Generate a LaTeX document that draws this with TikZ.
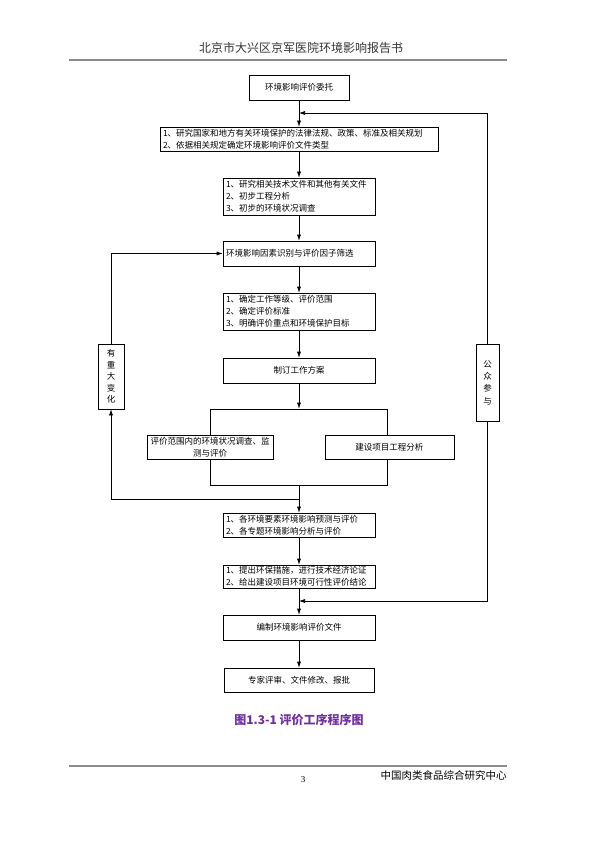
\documentclass[tikz,border=0pt]{standalone}
\usepackage{fontspec}
\setmainfont{Liberation Serif}
\newfontfamily\cjk{Noto Sans CJK SC}
\usetikzlibrary{positioning, arrows.meta}
\definecolor{captionpurple}{RGB}{112,48,160}

\begin{document}
\begin{tikzpicture}[x=1pt, y=1pt, node distance=52pt, auto,
    >={Latex[length=6pt, width=4pt]},
    font=\cjk\fontsize{8.5}{12}\selectfont,
    box/.style={draw, rectangle, fill=white, line width=0.6pt, inner sep=0pt, minimum width=152pt, minimum height=25pt},
    listbox/.style={box, text width=146pt, align=left},
    sidebox/.style={box, align=center},
    flow/.style={->, line width=0.6pt}]
    \useasboundingbox (0,0) rectangle (595,-842);

    % Page header
    \node[font=\cjk\fontsize{12}{14}\selectfont, text=black!80] (header) at (301,-48) {北京市大兴区京军医院环境影响报告书};
    \draw[black!45, line width=1.6pt] (69,-60) -- (507,-60);

    % Main chain of steps
    \node[box, minimum width=100pt] (entrust) at (299,-87.5) {环境影响评价委托};
    \node[listbox, below of=entrust, node distance=51.5pt, text width=272pt, minimum width=278pt, minimum height=24pt] (laws) {1、研究国家和地方有关环境保护的法律法规、政策、标准及相关规划\\2、依据相关规定确定环境影响评价文件类型};
    \node[listbox, below of=laws, node distance=57.5pt, minimum height=37pt] (prelim) {1、研究相关技术文件和其他有关文件\\2、初步工程分析\\3、初步的环境状况调查};
    \node[listbox, below of=prelim, node distance=57pt] (factor) {环境影响因素识别与评价因子筛选};
    \node[listbox, below of=factor, node distance=58pt, minimum height=37pt] (grade) {1、确定工作等级、评价范围\\2、确定评价标准\\3、明确评价重点和环境保护目标};
    \node[box, below of=grade, node distance=59pt] (plan) {制订工作方案};

    % Two parallel tasks
    \node[draw, line width=0.6pt, minimum width=177pt, minimum height=76pt, below of=plan, node distance=76.5pt] (split) {};
    \node[box, align=center, text width=122pt, minimum width=126pt, minimum height=24pt] (survey) at (split.west) {评价范围内的环境状况调查、监\\测与评价};
    \node[box, minimum width=129pt, minimum height=24pt] (project) at ([xshift=1.5pt]split.east) {建设项目工程分析};

    \node[listbox, below of=split, node distance=78pt, minimum height=24pt] (predict) {1、各环境要素环境影响预测与评价\\2、各专题环境影响分析与评价};
    \node[listbox, below of=predict, node distance=51.5pt, minimum height=23pt] (measure) {1、提出环保措施，进行技术经济论证\\2、给出建设项目环境可行性评价结论};
    \node[box, below of=measure, node distance=51pt] (report) {编制环境影响评价文件};
    \node[box, below of=report, node distance=52.5pt, minimum width=150pt, minimum height=24pt] (review) {专家评审、文件修改、报批};

    % Side boxes
    \node[sidebox, minimum width=26pt, minimum height=65pt, font=\cjk\fontsize{8.5}{11.5}\selectfont] (change) at (111,-376.5) {有\\重\\大\\变\\化};
    \node[sidebox, minimum width=23pt, minimum height=77pt, font=\cjk\fontsize{8.5}{12.3}\selectfont] (public) at (487.5,-382.5) {公\\众\\参\\与};

    % Junction points on the main line
    \coordinate[below of=entrust, node distance=25.5pt] (pubin);
    \coordinate[below of=split, node distance=52pt] (loopout);
    \coordinate[below of=measure, node distance=24.5pt] (pubout);

    % Connections
    \draw[flow] (entrust) -- (laws);
    \draw[flow] (laws) -- (prelim);
    \draw[flow] (prelim) -- (factor);
    \draw[flow] (factor) -- (grade);
    \draw[flow] (grade) -- (plan);
    \draw[flow] (plan) -- (split);
    \draw[flow] (split) -- (predict);
    \draw[flow] (predict) -- (measure);
    \draw[flow] (measure) -- (report);
    \draw[flow] (report) -- (review);

    % Feedback loops
    \draw[flow] (loopout) -| (change);
    \draw[flow] (change) |- (factor);
    \draw[flow] (public) |- (pubin);
    \draw[flow] (public) |- (pubout);

    % Caption and footer
    \node[font=\cjk\bfseries\fontsize{12}{14}\selectfont, text=captionpurple] (caption) at (299,-720) {图1.3-1 评价工序程序图};
    \draw[black!45, line width=1.3pt] (69,-766) -- (507,-766);
    \node[font=\fontsize{9}{10}\selectfont] (pageno) at (303,-780) {3};
    \node[font=\cjk\fontsize{10.5}{12}\selectfont] (centre) at (443.5,-775) {中国肉类食品综合研究中心};
\end{tikzpicture}
\end{document}
